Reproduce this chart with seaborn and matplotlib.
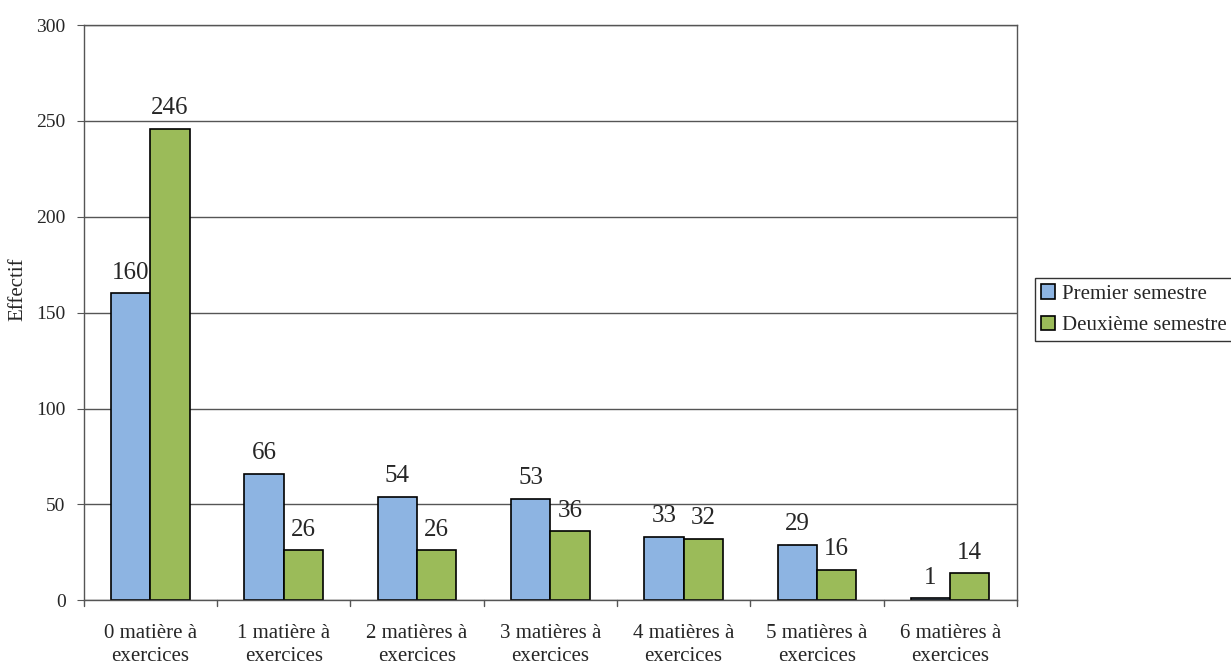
import pandas as pd
import numpy as np
import matplotlib.pyplot as plt
import seaborn as sns

categories = ["0 matière à\nexercices", "1 matière à\nexercices", "2 matières à\nexercices",
              "3 matières à\nexercices", "4 matières à\nexercices", "5 matières à\nexercices",
              "6 matières à\nexercices"]
premier = [160, 66, 54, 53, 33, 29, 1]
deuxieme = [246, 26, 26, 36, 32, 16, 14]
series = ["Premier semestre", "Deuxième semestre"]

df = pd.DataFrame({
    "cat": categories * 2,
    "Effectif": premier + deuxieme,
    "serie": [series[0]] * len(categories) + [series[1]] * len(categories),
})

sns.set_style("white")
plt.rcParams["font.family"] = ["Liberation Serif", "DejaVu Serif"]

fig = plt.figure(figsize=(12.31, 6.67), dpi=100)
ax = fig.add_axes([0.068, 0.1, 0.758, 0.8625])

sns.barplot(data=df, x="cat", y="Effectif", hue="serie", ax=ax,
            palette=["#8DB4E2", "#9BBB59"], width=0.59,
            edgecolor="black", linewidth=1.2, saturation=1)

for cont in ax.containers:
    ax.bar_label(cont, fontsize=18, padding=7)

ax.set_ylim(0, 300)
ax.set_yticks(range(0, 301, 50))
ax.set_xlim(-0.5, len(categories) - 0.5)
ax.set_xticks(range(len(categories)))
ax.set_xticklabels(categories, fontsize=15, linespacing=1.3)
ax.yaxis.grid(True, color="#555555", linewidth=1)
ax.set_axisbelow(True)
ax.set_xlabel("")
ax.set_ylabel("Effectif", fontsize=15)
ax.yaxis.set_label_coords(-0.06, 0.54)
ax.tick_params(axis="y", labelsize=14, length=5, left=True, color="#555555", pad=8)
ax.tick_params(axis="x", length=0, pad=17)
for i in range(len(categories) + 1):
    ax.plot([i - 0.5, i - 0.5], [0, -3], color="#555555", lw=1, clip_on=False)
for s in ax.spines.values():
    s.set_color("#555555")
    s.set_linewidth(1)

leg = ax.legend(loc="center left", bbox_to_anchor=(1.019, 0.505), fontsize=15,
                frameon=True, fancybox=False, edgecolor="black",
                handlelength=0.7, handleheight=0.7, handletextpad=0.3,
                borderpad=0.3, labelspacing=0.55, borderaxespad=0)
leg.get_frame().set_linewidth(1)

fig.savefig("out.png", dpi=100)
